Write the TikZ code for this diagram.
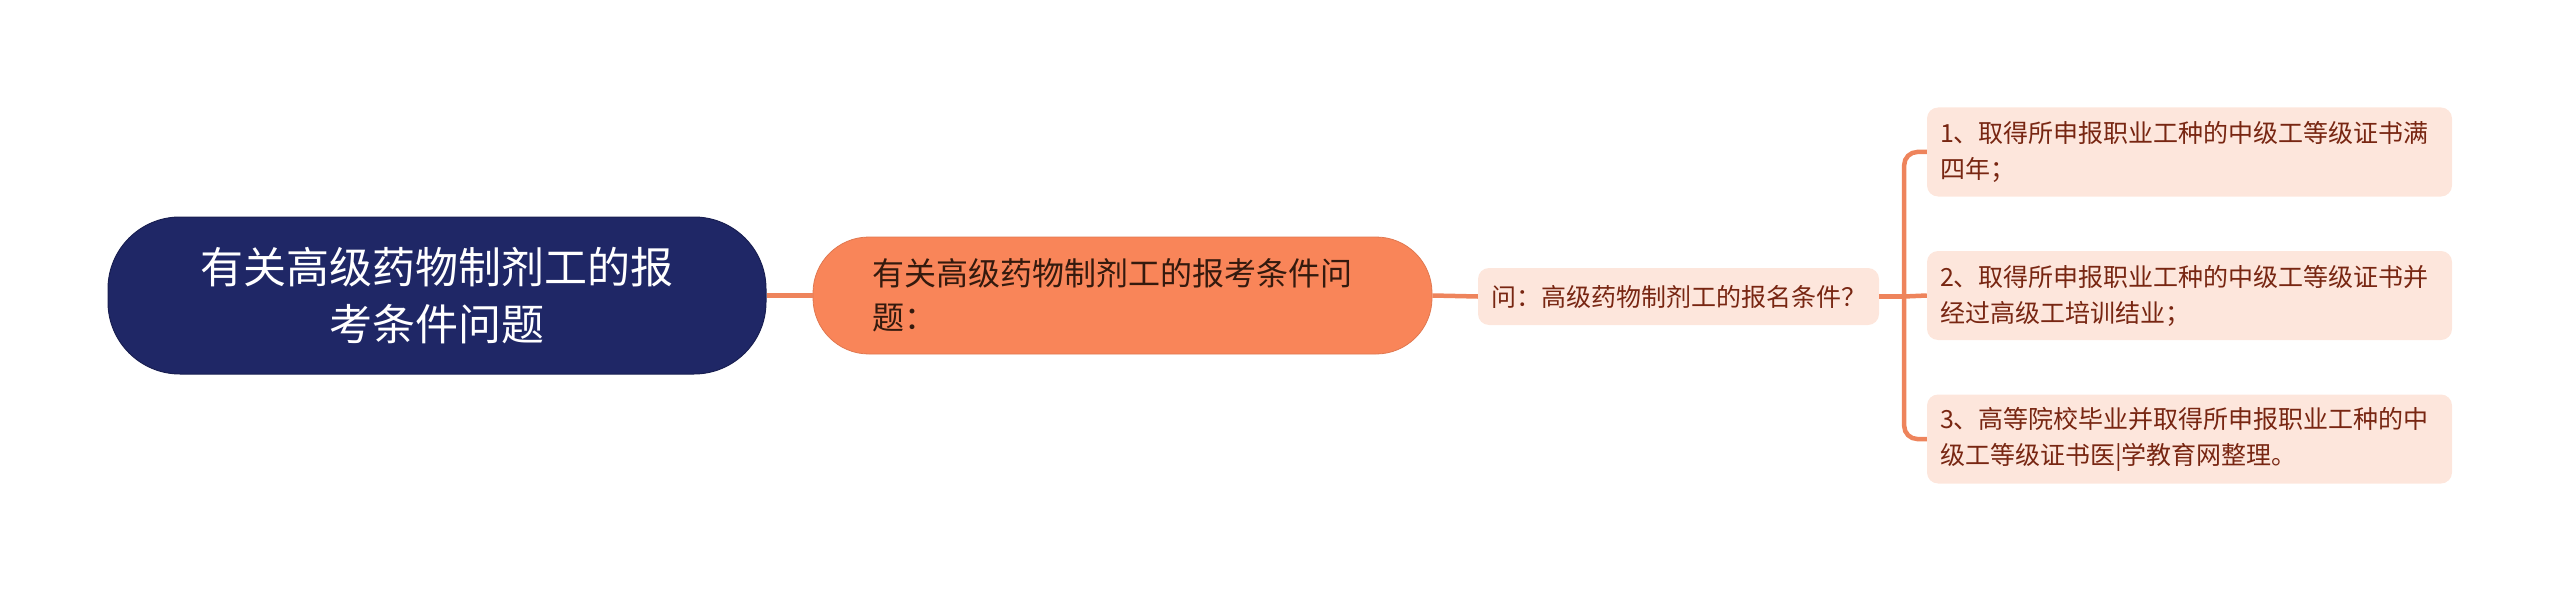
\documentclass[tikz,border=0pt]{standalone}
\usepackage{fontspec}
\setmainfont{Noto Sans CJK SC}
\usetikzlibrary{calc,positioning}
\definecolor{rootblue}{RGB}{31,39,102}
\definecolor{topicorange}{RGB}{249,133,89}
\definecolor{leafpink}{RGB}{253,230,220}
\definecolor{linkorange}{RGB}{238,132,92}
\definecolor{leaftext}{RGB}{120,38,18}
\definecolor{topictext}{RGB}{52,26,14}
\tikzstyle{entry}=[align=left, anchor=center, inner ysep=0pt]
\tikzstyle{root} = [entry, align=center, fill=rootblue, draw=rootblue!80!black, line width=1pt, text=white, text width=560pt,
minimum width=658pt, minimum height=157pt, rounded corners=72pt, font=\fontsize{43}{57}\selectfont]
\tikzstyle{topic} = [entry, fill=topicorange, draw=topicorange!90!black, line width=0.8pt, text=topictext, text width=500pt,
inner xsep=59.5pt, minimum height=117pt, rounded corners=56pt, font=\fontsize{32}{44}\selectfont]
\tikzstyle{question} = [entry, fill=leafpink, text=leaftext, inner xsep=13pt, minimum width=399pt,
minimum height=57pt, rounded corners=11pt, font=\fontsize{25}{30}\selectfont]
\tikzstyle{leaf} = [entry, fill=leafpink, text=leaftext, text width=499pt, inner xsep=13pt,
minimum height=89pt, rounded corners=11pt, font=\fontsize{25}{36}\selectfont]
\tikzstyle{link} = [draw=linkorange, line width=4.5pt]

\begin{document}
\begin{tikzpicture}[x=1pt, y=-1pt]
\useasboundingbox (0,0) rectangle (2560,591);

\node (root) at (437,295.5) [root] {有关高级药物制剂工的报\\考条件问题};
\node (topic) at (1122.5,295.5) [topic] {有关高级药物制剂工的报考条件问\\题：};
\node (question) at (1678.5,296.5) [question] {问：高级药物制剂工的报名条件？};

\node (leafone) at (2189.5,152) [leaf] {1、取得所申报职业工种的中级工等级证书满\\四年；};
\node (leaftwo) at (2189.5,295.5) [leaf] {2、取得所申报职业工种的中级工等级证书并\\经过高级工培训结业；};
\node (leafthree) at (2189.5,439) [leaf] {3、高等院校毕业并取得所申报职业工种的中\\级工等级证书医|学教育网整理。};

\coordinate (fork) at ($(question.east)+(25,0)$);

\draw [link] (root.east) -- (topic.west);
\draw [link] (topic.east) -- (question.west);
\draw [link] (question.east) -- (fork);
\draw [link, rounded corners=13pt] (fork) |- (leafone.west);
\draw [link] (fork) -- (leaftwo.west);
\draw [link, rounded corners=13pt] (fork) |- (leafthree.west);
\end{tikzpicture}
\end{document}
